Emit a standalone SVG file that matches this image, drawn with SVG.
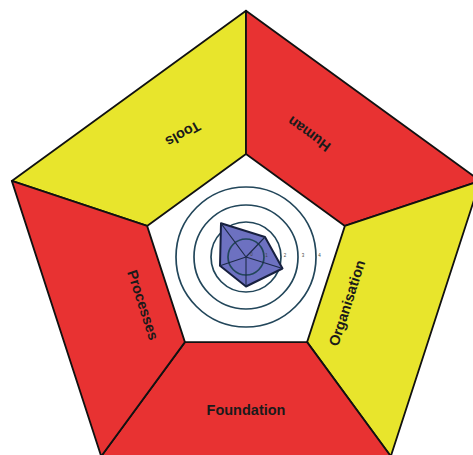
<svg xmlns="http://www.w3.org/2000/svg" width="473" height="455" viewBox="0 0 473 455">
<style>
.seg{stroke:#111;stroke-width:1.8;stroke-linejoin:round}
.red{fill:#e83232}
.yel{fill:#e8e52c}
.lbl{font-family:"Liberation Sans",Arial,sans-serif;font-weight:bold;font-size:14.5px;fill:#1a1a1a;text-anchor:middle;dominant-baseline:central}
.ring{fill:none;stroke:#22465a;stroke-width:1.7}
.tick{font-family:"Liberation Sans",Arial,sans-serif;font-size:4.5px;fill:#444;text-anchor:middle;dominant-baseline:central}
</style>
<rect width="473" height="455" fill="#ffffff"/>
<g id="tools">
<polygon class="seg yel" points="11.8,180.9 246,10.7 246,154 147.1,225.9"/>
<text class="lbl" transform="translate(183,134) rotate(151)">Tools</text>
</g>
<g id="human">
<polygon class="seg red" points="246,10.7 480.2,180.9 344.9,225.9 246,154"/>
<text class="lbl" transform="translate(309,134) rotate(216)">Human</text>
</g>
<g id="organisation">
<polygon class="seg yel" points="480.2,180.9 390.8,456.3 307.1,342.1 344.9,225.9"/>
<text class="lbl" transform="translate(347,303) rotate(-72)">Organisation</text>
</g>
<g id="foundation">
<polygon class="seg red" points="390.8,456.3 101.2,456.3 184.9,342.1 307.1,342.1"/>
<text class="lbl" x="246" y="410">Foundation</text>
</g>
<g id="processes">
<polygon class="seg red" points="101.2,456.3 11.8,180.9 147.1,225.9 184.9,342.1"/>
<text class="lbl" transform="translate(143,305) rotate(72)">Processes</text>
</g>
<g id="radar">
<circle class="ring" cx="246" cy="257" r="70"/>
<circle class="ring" cx="246" cy="257" r="52"/>
<circle class="ring" cx="246" cy="257" r="35"/>
<polygon points="221,223.3 265,237 282.5,268.5 246,286.5 220,265.7" fill="#6d71c1" stroke="#17203f" stroke-width="2" stroke-linejoin="round"/>
<circle class="ring" cx="246" cy="257" r="18" stroke="#1d2f4a"/>
<g stroke="#1d2a48" stroke-width="1.1">
<line x1="246" y1="257" x2="221" y2="223.3"/>
<line x1="246" y1="257" x2="265" y2="237"/>
<line x1="246" y1="257" x2="282.5" y2="268.5"/>
<line x1="246" y1="257" x2="246" y2="286.5"/>
<line x1="246" y1="257" x2="220" y2="265.7"/>
</g>
<text class="tick" x="251.5" y="254.5">0</text>
<text class="tick" x="266.5" y="255">1</text>
<text class="tick" x="285" y="255.5">2</text>
<text class="tick" x="303" y="255.5">3</text>
<text class="tick" x="319.5" y="255.5">4</text>
</g>
</svg>
